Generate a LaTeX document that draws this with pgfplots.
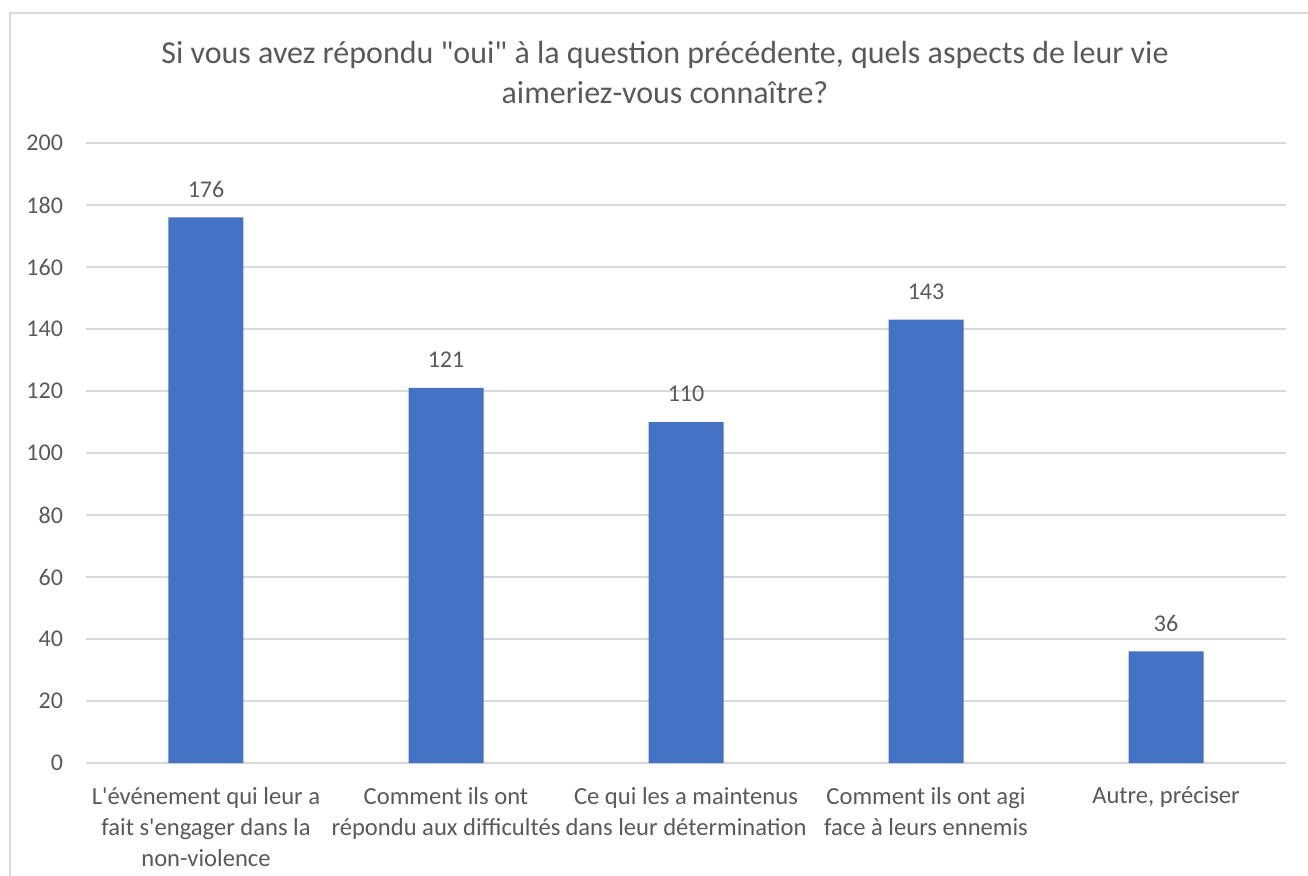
\documentclass[border=0pt]{standalone}
\usepackage{pgfplots}
\pgfplotsset{compat=1.18}
\usepackage{fontspec}
\newfontfamily\calibri{Carlito}
\definecolor{barblue}{HTML}{4472C4}
\definecolor{txtgray}{HTML}{595959}
\definecolor{gridgray}{HTML}{D9D9D9}
\begin{document}
\begin{tikzpicture}[x=1pt,y=1pt]
\useasboundingbox (0,0) rectangle (654,437.5);
\begin{scope}
\clip (0,0) rectangle (654,437.5);
\draw[gridgray, line width=0.8pt] (5,-5) rectangle (670,431);
\end{scope}
\node[txtgray, font=\calibri\fontsize{16}{20}\selectfont, align=center] at (332.5,401)
  {Si vous avez répondu "oui" à la question précédente, quels aspects de leur vie\\aimeriez-vous connaître?};
\begin{axis}[
    at={(43pt,56pt)}, anchor=south west,
    scale only axis, width=600pt, height=310pt,
    ybar, bar width=0.3125,
    xmin=-0.5, xmax=4.5, ymin=0, ymax=200,
    ytick={0,20,...,200},
    xtick=data,
    xticklabels={{L'événement qui leur a\\fait s'engager dans la\\non-violence},
                 {Comment ils ont\\répondu aux difficultés},
                 {Ce qui les a maintenus\\dans leur détermination},
                 {Comment ils ont agi\\face à leurs ennemis},
                 {Autre, préciser}},
    xticklabel style={align=center, font=\calibri\fontsize{12.3}{15.5}\selectfont, text=txtgray, yshift=-8.5pt},
    yticklabel style={font=\calibri\fontsize{12}{14}\selectfont, text=txtgray, xshift=-8pt},
    /pgf/number format/assume math mode=true,
    axis line style={draw=none},
    major tick length=0pt,
    ymajorgrids, grid style={gridgray, line width=0.8pt},
    nodes near coords,
    nodes near coords style={font=\calibri\fontsize{12}{14}\selectfont, text=txtgray, yshift=6.5pt},
    clip=false,
  ]
\addplot[fill=barblue, draw=none] coordinates {(0,176) (1,121) (2,110) (3,143) (4,36)};
\end{axis}
\end{tikzpicture}
\end{document}
